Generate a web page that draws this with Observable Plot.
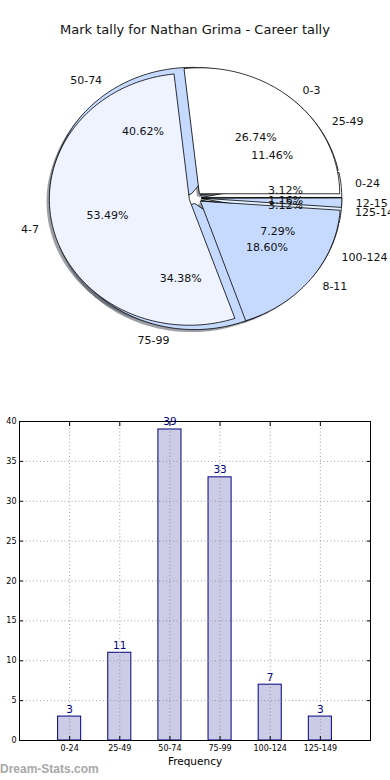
<!DOCTYPE html>
<html><head><meta charset="utf-8">
<script src="https://cdn.jsdelivr.net/npm/d3@7"></script>
<script src="https://cdn.jsdelivr.net/npm/@observablehq/plot@0.6"></script>
<style>
body{margin:0;width:390px;height:780px;overflow:hidden;background:#fff;font-family:"DejaVu Sans",sans-serif;position:relative}
#title{height:50px;line-height:60px;text-align:center;font-size:13px;color:#111;white-space:nowrap}
#pie{height:350px}
#bar{height:380px}
#wm{position:absolute;left:0;top:762px;font-size:12px;font-weight:bold;color:#a8a8a8;font-family:"Liberation Sans",Arial,sans-serif}
svg{display:block}
</style></head><body>
<div id="title">Mark tally for Nathan Grima - Career tally</div>
<div id="pie"></div>
<div id="bar"></div>
<div id="wm">Dream-Stats.com</div>
<script>
// Marks ranges (pie 1 + bar chart)
const rangeLabels = ["0-24","25-49","50-74","75-99","100-124","125-149"];
const rangeCounts = [3,11,39,33,7,3];
const rangeColors = ["#ffffff","#eef3ff","#c6daff","#c6daff","#c6daff","#e4f3ff"];
const rangeExplode = 0.045;
// Tally ranges (pie 2)
const tallyLabels = ["0-3","4-7","8-11","12-15"];
const tallyCounts = [23,46,16,1];
const tallyColors = ["#ffffff","#eef3ff","#c6daff","#c6daff"];
const tallyExplode = 0.045;
const yTicks = [0,5,10,15,20,25,30,35,40];

function fmtPct(p){
  const s=p*10000; let f=Math.floor(s); const d=s-f;
  if (Math.abs(d-0.5)<1e-9){ if (f%2) f+=1; } else if (d>0.5) f+=1;
  return (f/100).toFixed(2)+"%";
}

function build(labels, counts, colors, explode, key){
  const arcs = d3.pie().sort(null)(counts);
  const total = d3.sum(counts);
  const poly=[], shadow=[], lab=[], pct=[];
  arcs.forEach((a,i)=>{
    const mid=(a.startAngle+a.endAngle)/2;
    const c=Math.cos(mid), s=Math.sin(mid);
    const ox=explode*c, oy=explode*s;
    const n=Math.max(2,Math.ceil((a.endAngle-a.startAngle)/0.02));
    const pts=[[ox,oy]];
    for(let k=0;k<=n;k++){const t=a.startAngle+(a.endAngle-a.startAngle)*k/n; pts.push([ox+Math.cos(t), oy+Math.sin(t)]);}
    pts.forEach(([x,y])=>{poly.push({id:key+i,x,y,fill:colors[i]}); shadow.push({id:key+i,x:x-0.02,y:y-0.02});});
    lab.push({x:ox+1.1*c, y:oy+1.1*s, text:labels[i], right:c>=0});
    pct.push({x:ox+0.6*c, y:oy+0.6*s, text:fmtPct(counts[i]/total)});
  });
  return {poly, shadow, lab, pct};
}
const P1 = build(rangeLabels, rangeCounts, rangeColors, rangeExplode, "r");
const P2 = build(tallyLabels, tallyCounts, tallyColors, tallyExplode, "t");

const cx=195, cy=147.5, rx=140, ry=126;
const txt = {fontSize:11, fill:"#111", fontFamily:"DejaVu Sans"};
const labs = P1.lab.concat(P2.lab);
const pie = Plot.plot({
  width:390, height:350, margin:0,
  x:{type:"linear", domain:[-1,1], range:[cx-rx, cx+rx]},
  y:{type:"linear", domain:[-1,1], range:[cy+ry, cy-ry]},
  axis:null,
  style:{fontFamily:"DejaVu Sans", background:"transparent", overflow:"visible"},
  marks:[
    Plot.line(P1.shadow.concat(P2.shadow), {x:"x", y:"y", z:"id", fill:"#3b4150", fillOpacity:0.5, stroke:"none", curve:"linear-closed"}),
    Plot.line(P1.poly, {x:"x", y:"y", z:"id", fill:"fill", stroke:"#000", strokeWidth:0.8, curve:"linear-closed"}),
    Plot.line(P2.poly, {x:"x", y:"y", z:"id", fill:"fill", stroke:"#000", strokeWidth:0.8, curve:"linear-closed"}),
    Plot.text(labs.filter(d=>d.right), {x:"x", y:"y", text:"text", textAnchor:"start", ...txt}),
    Plot.text(labs.filter(d=>!d.right), {x:"x", y:"y", text:"text", textAnchor:"end", ...txt}),
    Plot.text(P1.pct.concat(P2.pct), {x:"x", y:"y", text:"text", textAnchor:"middle", ...txt})
  ]
});
document.getElementById("pie").appendChild(pie);

const bars = rangeLabels.map((label,i)=>({i, label, count:rangeCounts[i]}));
const xTicks = bars.map(d=>d.i);
const bar = Plot.plot({
  width:390, height:380, marginTop:21, marginBottom:40, marginLeft:19, marginRight:20,
  x:{type:"linear", domain:[-1,6]},
  y:{type:"linear", domain:[0,40]},
  style:{fontFamily:"DejaVu Sans", fontSize:"8px", color:"#000", background:"transparent", overflow:"visible"},
  marks:[
    Plot.rectY(bars, {x1:d=>d.i-0.23, x2:d=>d.i+0.23, y:"count", fill:"navy", fillOpacity:0.2, stroke:"navy", strokeWidth:1}),
    Plot.gridY({ticks:yTicks, stroke:"#888", strokeOpacity:0.8, strokeDasharray:"1,2.5"}),
    Plot.gridX({ticks:xTicks, stroke:"#888", strokeOpacity:0.8, strokeDasharray:"1,2.5"}),
    Plot.frame({stroke:"#000", strokeWidth:1}),
    Plot.axisY({ticks:yTicks, tickSize:0, tickPadding:3, label:null, fontSize:8}),
    Plot.axisY({ticks:yTicks, tickSize:-4, tickFormat:()=>"", label:null}),
    Plot.axisY({ticks:yTicks, anchor:"right", tickSize:-4, tickFormat:()=>"", label:null}),
    Plot.axisX({ticks:xTicks, tickSize:0, tickPadding:5, tickFormat:i=>rangeLabels[i], label:null, fontSize:8}),
    Plot.axisX({ticks:xTicks, tickSize:-4, tickFormat:()=>"", label:null}),
    Plot.axisX({ticks:xTicks, anchor:"top", tickSize:-4, tickFormat:()=>"", label:null}),
    Plot.text(bars, {x:"i", y:"count", text:d=>String(d.count), dy:-4, lineAnchor:"bottom", fill:"navy", fontSize:10.5}),
    Plot.text(["Frequency"], {frameAnchor:"bottom", dy:24, text:d=>d, fontSize:10.5, fill:"#000"})
  ]
});
document.getElementById("bar").appendChild(bar);
</script>
</body></html>
